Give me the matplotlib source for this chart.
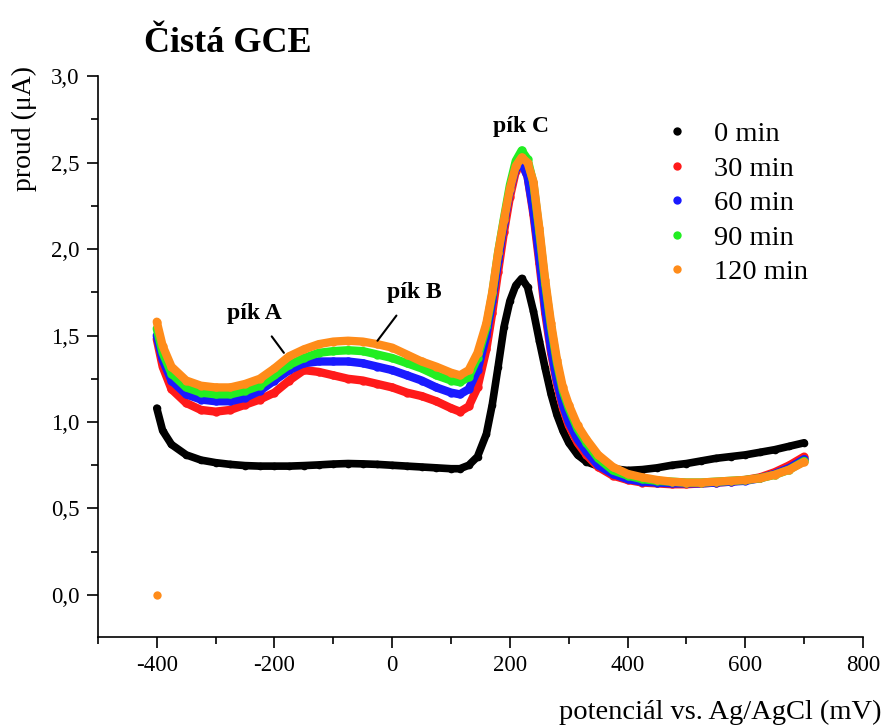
import matplotlib
matplotlib.use('Agg')
import matplotlib.pyplot as plt
from matplotlib.lines import Line2D
from matplotlib.ticker import MultipleLocator, FuncFormatter

plt.rcParams['font.family'] = ['Liberation Serif', 'DejaVu Serif']

# potential (mV)
potential = [-400, -390, -375, -350, -325, -300, -275, -250, -225, -200, -175, -150,
             -125, -100, -75, -50, -25, 0, 25, 50, 75, 100, 115, 130, 145, 160, 170,
             180, 190, 200, 210, 220, 230, 240, 250, 260, 270, 280, 290, 300, 315,
             330, 350, 375, 400, 425, 450, 475, 500, 525, 550, 575, 600, 625, 650,
             675, 700]

# current (uA)
i_0 = [1.08, 0.95, 0.87, 0.81, 0.78, 0.765, 0.755, 0.748, 0.745, 0.745, 0.745, 0.748,
       0.752, 0.757, 0.76, 0.758, 0.755, 0.75, 0.745, 0.74, 0.735, 0.73, 0.73, 0.75,
       0.80, 0.93, 1.10, 1.32, 1.55, 1.70, 1.79, 1.83, 1.78, 1.64, 1.47, 1.31, 1.16,
       1.04, 0.95, 0.88, 0.81, 0.77, 0.745, 0.73, 0.72, 0.725, 0.735, 0.75, 0.76,
       0.775, 0.79, 0.80, 0.81, 0.825, 0.84, 0.86, 0.88]
i_30 = [1.48, 1.32, 1.19, 1.11, 1.07, 1.06, 1.07, 1.10, 1.13, 1.17, 1.24, 1.30, 1.29,
        1.27, 1.25, 1.24, 1.22, 1.20, 1.17, 1.15, 1.12, 1.08, 1.06, 1.09, 1.20, 1.42,
        1.63, 1.87, 2.10, 2.30, 2.45, 2.50, 2.42, 2.20, 1.92, 1.63, 1.40, 1.22, 1.08,
        0.98, 0.88, 0.81, 0.74, 0.69, 0.665, 0.65, 0.645, 0.64, 0.64, 0.645, 0.65,
        0.655, 0.665, 0.68, 0.71, 0.75, 0.80]
i_60 = [1.50, 1.36, 1.24, 1.16, 1.13, 1.12, 1.12, 1.14, 1.18, 1.24, 1.30, 1.34, 1.35,
        1.35, 1.35, 1.34, 1.32, 1.30, 1.27, 1.24, 1.20, 1.17, 1.16, 1.19, 1.30, 1.50,
        1.70, 1.93, 2.15, 2.34, 2.47, 2.50, 2.42, 2.22, 1.95, 1.66, 1.42, 1.24, 1.10,
        1.00, 0.90, 0.83, 0.75, 0.70, 0.67, 0.655, 0.65, 0.645, 0.645, 0.645, 0.65,
        0.655, 0.66, 0.675, 0.70, 0.735, 0.785]
i_90 = [1.54, 1.40, 1.28, 1.20, 1.17, 1.16, 1.16, 1.18, 1.21, 1.27, 1.33, 1.37, 1.40,
        1.41, 1.415, 1.41, 1.39, 1.37, 1.34, 1.31, 1.27, 1.24, 1.23, 1.26, 1.37, 1.55,
        1.74, 1.98, 2.18, 2.37, 2.51, 2.57, 2.52, 2.38, 2.10, 1.80, 1.55, 1.34, 1.18,
        1.08, 0.96, 0.88, 0.79, 0.72, 0.69, 0.67, 0.66, 0.655, 0.65, 0.65, 0.655,
        0.66, 0.665, 0.675, 0.695, 0.725, 0.775]
i_120 = [1.58, 1.44, 1.32, 1.24, 1.21, 1.20, 1.20, 1.22, 1.25, 1.31, 1.38, 1.42, 1.45,
         1.465, 1.47, 1.465, 1.45, 1.43, 1.39, 1.35, 1.32, 1.285, 1.27, 1.30, 1.40,
         1.57, 1.75, 1.98, 2.17, 2.35, 2.48, 2.53, 2.50, 2.39, 2.12, 1.82, 1.57, 1.36,
         1.20, 1.10, 0.98, 0.90, 0.81, 0.74, 0.70, 0.68, 0.665, 0.655, 0.65, 0.65,
         0.655, 0.66, 0.665, 0.675, 0.695, 0.725, 0.77]
# stray first point at zero (visible for 120 min)
stray_x = [-400]
stray_y = [0.0]

labels = ['0 min', '30 min', '60 min', '90 min', '120 min']
colors = ['black', '#ff1a1a', '#1a1aff', '#22ee22', '#ff8c1a']
series = [i_0, i_30, i_60, i_90, i_120]

fig = plt.figure(figsize=(8.82, 7.25), dpi=100)
ax = fig.add_axes([0.111, 0.1214, 0.8675, 0.7736])

for y, c in zip(series, colors):
    lw = 5.5 if c == 'black' else 6.0
    ax.plot(potential, y, '-', color=c, lw=lw, marker='o', ms=lw, mew=0,
            solid_capstyle='round', solid_joinstyle='round')
ax.plot(stray_x, stray_y, 'o', color=colors[-1], ms=6, mew=0)

ax.set_xlim(-500, 800)
ax.set_ylim(-0.243, 3.0)
ax.xaxis.set_major_locator(MultipleLocator(200))
ax.xaxis.set_minor_locator(MultipleLocator(100))
ax.yaxis.set_major_locator(MultipleLocator(0.5))
ax.yaxis.set_minor_locator(MultipleLocator(0.25))
ax.yaxis.set_major_formatter(FuncFormatter(lambda v, p: f'{v:.1f}'.replace('.', ',')))
ax.xaxis.set_major_formatter(FuncFormatter(lambda v, p: f'{v:.0f}'))

for s in ['top', 'right']:
    ax.spines[s].set_visible(False)
for s in ['left', 'bottom']:
    ax.spines[s].set_linewidth(1.2)
ax.tick_params(which='major', length=8, width=1.2, labelsize=16.5, pad=5)
ax.tick_params(which='minor', length=5, width=1.2)

ax.set_ylabel('proud (μA)', fontsize=20)
ax.yaxis.set_label_coords(-0.08, 0.907)
ax.set_xlabel('potenciál vs. Ag/AgCl (mV)', fontsize=20.5)
ax.xaxis.set_label_coords(0.813, -0.112)

fig.text(0.2585, 0.94, 'Čistá GCE', fontsize=26, fontweight='bold',
         ha='center', va='center')

ax.annotate('pík A', xy=(-184, 1.40), xytext=(-234, 1.63), fontsize=17,
            fontweight='bold', ha='center', va='center',
            arrowprops=dict(arrowstyle='-', color='black', lw=1.5,
                            shrinkA=9, shrinkB=0))
ax.annotate('pík B', xy=(-25, 1.47), xytext=(37, 1.75), fontsize=17,
            fontweight='bold', ha='center', va='center',
            arrowprops=dict(arrowstyle='-', color='black', lw=1.5,
                            shrinkA=9, shrinkB=0))
ax.text(219, 2.71, 'pík C', fontsize=17, fontweight='bold', ha='center', va='center')

handles = [Line2D([], [], marker='o', ls='none', color=c, ms=6, mew=0) for c in colors]
ax.legend(handles, labels, loc='upper left', bbox_to_anchor=(0.705, 0.965),
          frameon=False, fontsize=20.5, handlelength=1.0, handletextpad=0.8,
          labelspacing=0.3)

fig.savefig('out.png', dpi=100)
